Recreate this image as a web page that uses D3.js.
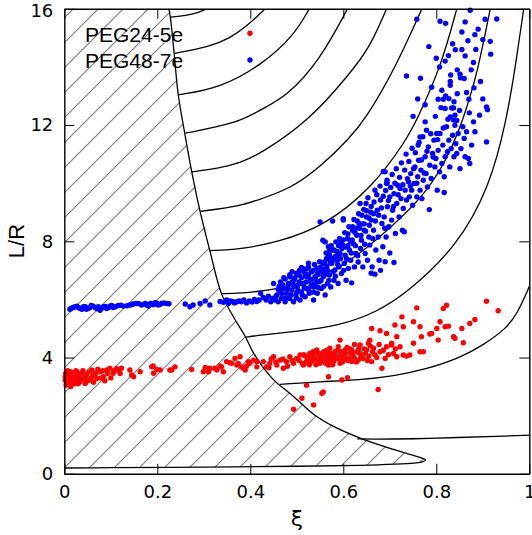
<!DOCTYPE html>
<html>
<head>
<meta charset="utf-8">
<script src="https://cdn.jsdelivr.net/npm/d3@7"></script>
<style>
  body { margin: 0; background: #fff; }
</style>
</head>
<body>
<div id="chart"></div>
<script>
// tick values
const xTicks = [0, 0.2, 0.4, 0.6, 0.8, 1]
const yTicks = [0, 4, 8, 12, 16]

// legend entries
const seriesNames = ['PEG24-5e', 'PEG48-7e']

// edge of the hatched (forbidden) region, from top of plot round the nose to the axis
const boundary = [
  [0.225, 16], [0.228, 15.72], [0.236, 14.5], [0.245, 13.05], [0.259, 11.72],
  [0.274, 10.4], [0.292, 9.03], [0.313, 7.68], [0.338, 6.2], [0.363, 5.42],
  [0.39, 4.7], [0.406, 4.18], [0.446, 3.3], [0.493, 2.66], [0.536, 2.05],
  [0.579, 1.63], [0.636, 1.23], [0.708, 0.84], [0.745, 0.66], [0.768, 0.55],
  [0.777, 0.48], [0.77, 0.41], [0.752, 0.37], [0.71, 0.33], [0.636, 0.29],
  [0.5, 0.26], [0.3, 0.23], [0.1, 0.21], [0, 0.2]
]

// contour lines
const contours = [
  [[0.227, 15.71], [0.27, 15.79], [0.29, 15.88], [0.306, 16]],
  [[0.238, 14.47], [0.313, 14.7], [0.355, 14.98], [0.392, 15.39], [0.432, 16]],
  [[0.245, 13.04], [0.335, 13.27], [0.425, 14.08], [0.492, 15.04], [0.527, 16]],
  [[0.26, 11.72], [0.371, 12.06], [0.421, 12.52], [0.478, 12.98], [0.55, 14.24], [0.609, 16]],
  [[0.274, 10.39], [0.33, 10.5], [0.378, 10.7], [0.421, 11.0], [0.528, 12.17], [0.614, 13.77], [0.657, 14.67], [0.693, 16]],
  [[0.292, 9.03], [0.378, 9.21], [0.421, 9.45], [0.485, 9.8], [0.55, 10.55], [0.614, 11.55], [0.65, 12.27], [0.71, 13.9], [0.769, 16]],
  [[0.313, 7.68], [0.378, 7.72], [0.46, 7.98], [0.557, 8.5], [0.664, 9.87], [0.736, 11.5], [0.758, 12.17], [0.81, 14.0], [0.844, 16]],
  [[0.338, 6.2], [0.378, 6.21], [0.45, 6.33], [0.521, 6.6], [0.6, 7.15], [0.664, 7.93], [0.772, 9.5], [0.822, 10.79], [0.858, 12.17], [0.89, 13.9], [0.916, 16]],
  [[0.39, 4.7], [0.42, 4.77], [0.5, 4.9], [0.593, 5.1], [0.67, 5.55], [0.736, 6.21], [0.844, 7.81], [0.915, 9.87], [0.951, 12.17], [0.97, 14.0], [0.988, 16]],
  [[0.464, 3.08], [0.55, 3.17], [0.636, 3.23], [0.708, 3.36], [0.779, 3.6], [0.851, 3.99], [0.9, 4.42], [0.951, 5.0], [0.975, 5.55], [0.994, 6.21], [1.0, 6.45]],
  [[0.63, 1.2], [0.66, 1.19], [0.75, 1.2], [0.85, 1.25], [0.93, 1.29], [1.0, 1.33]]
]

// PEG24-5e  [xi, L/R]
const redPoints = [
  [0.002, 3.34], [0.005, 3.17], [0.009, 3.46], [0.012, 3.28], [0.016, 3.11], [0.005, 3.4], [0.019, 3.4], [0.023, 3.23],
  [0.027, 3.51], [0.03, 3.34], [0.034, 3.17], [0.037, 3.46], [0.041, 3.28], [0.012, 3.51], [0.019, 3.11], [0.045, 3.11],
  [0.048, 3.4], [0.055, 3.23], [0.059, 3.57], [0.062, 3.4], [0.07, 3.28], [0.077, 3.51], [0.084, 3.34], [0.091, 3.57],
  [0.098, 3.63], [0.105, 3.46], [0.116, 3.57], [0.123, 3.63], [0.141, 3.57], [0.145, 3.4], [0.149, 3.34], [0.163, 3.51],
  [0.188, 3.68], [0.192, 3.46], [0.206, 3.57], [0.227, 3.57], [0.238, 3.68], [0.274, 3.59], [0.303, 3.66], [0.31, 3.51],
  [0.324, 3.63], [0.002, 3.22], [0.004, 3.05], [0.006, 3.3], [0.008, 3.15], [0.01, 3.4], [0.012, 3.2], [0.014, 3.0],
  [0.016, 3.35], [0.018, 3.25], [0.02, 3.45], [0.022, 3.1], [0.024, 3.3], [0.026, 3.2], [0.028, 3.4], [0.003, 3.45],
  [0.007, 3.55], [0.011, 3.08], [0.015, 3.5], [0.019, 3.15], [0.025, 3.55], [0.03, 3.1], [0.033, 3.45], [0.036, 3.25],
  [0.04, 3.55], [0.045, 3.35], [0.05, 3.2], [0.053, 3.5], [0.058, 3.3], [0.063, 3.15], [0.067, 3.45], [0.072, 3.6],
  [0.078, 3.3], [0.082, 3.55], [0.087, 3.2], [0.093, 3.45], [0.1, 3.3], [0.108, 3.55], [0.112, 3.62], [0.12, 3.45],
  [0.191, 3.71], [0.199, 3.59], [0.231, 3.57], [0.299, 3.51], [0.313, 3.63], [0.328, 3.57], [0.335, 3.71],
  [0.338, 3.68], [0.349, 3.86], [0.36, 3.8], [0.367, 3.97], [0.374, 3.8], [0.381, 3.68], [0.389, 3.57], [0.378, 4.03],
  [0.396, 3.86], [0.407, 3.91], [0.414, 3.68], [0.342, 3.51], [0.356, 3.82], [0.371, 3.74], [0.385, 3.63], [0.392, 3.71],
  [0.399, 3.8], [0.414, 3.86],
  [0.428, 3.86], [0.435, 3.68], [0.442, 3.8], [0.45, 4.03], [0.457, 3.74], [0.464, 3.91], [0.471, 3.63], [0.478, 3.86],
  [0.485, 4.03], [0.493, 3.8], [0.5, 3.97], [0.507, 4.09], [0.514, 3.74], [0.525, 4.03], [0.528, 4.14], [0.532, 3.86],
  [0.539, 3.97], [0.543, 4.26], [0.55, 3.8], [0.554, 4.09], [0.557, 3.91], [0.564, 4.14], [0.568, 3.74], [0.571, 4.32],
  [0.575, 3.97], [0.579, 3.86], [0.582, 4.2], [0.586, 4.03], [0.589, 4.37], [0.593, 3.8], [0.597, 4.09], [0.6, 3.91],
  [0.604, 4.26], [0.607, 3.97], [0.614, 4.14], [0.618, 3.86], [0.622, 4.03], [0.629, 4.2], [0.632, 3.91], [0.636, 4.43],
  [0.64, 4.09], [0.643, 3.97], [0.65, 4.26], [0.654, 4.49], [0.661, 3.86], [0.665, 4.32], [0.668, 4.09], [0.679, 4.2],
  [0.683, 3.63], [0.69, 3.97], [0.693, 4.37], [0.704, 4.43], [0.708, 4.14], [0.715, 4.03], [0.722, 4.37], [0.729, 4.09],
  [0.736, 4.05], [0.743, 4.09], [0.751, 4.49], [0.765, 4.2], [0.772, 4.2],
  [0.505, 3.9], [0.515, 4.1], [0.52, 3.85], [0.53, 4.0], [0.535, 4.2], [0.545, 3.9], [0.55, 4.05], [0.56, 3.95],
  [0.565, 4.25], [0.57, 3.85], [0.58, 4.1], [0.59, 3.95], [0.595, 4.2], [0.6, 4.05], [0.61, 3.9], [0.615, 4.3],
  [0.62, 4.1], [0.625, 3.95], [0.635, 4.15], [0.645, 4.3], [0.655, 4.05],
  [0.512, 3.8], [0.518, 4.05], [0.523, 3.95], [0.527, 3.75], [0.533, 3.9], [0.538, 4.1], [0.541, 3.75], [0.547, 4.15],
  [0.552, 3.9], [0.558, 4.2], [0.562, 3.8], [0.567, 4.0], [0.573, 4.15], [0.577, 3.75], [0.583, 3.95], [0.588, 4.25],
  [0.592, 4.05], [0.598, 3.85], [0.603, 4.15], [0.608, 4.35], [0.612, 3.95], [0.618, 4.25], [0.624, 4.45], [0.628, 3.85],
  [0.633, 4.3], [0.638, 4.0], [0.648, 4.15], [0.652, 3.9], [0.658, 4.4], [0.663, 4.2], [0.672, 4.0], [0.677, 4.45],
  [0.686, 4.25], [0.697, 4.1], [0.712, 4.3], [0.47, 3.95], [0.48, 3.7], [0.49, 3.9], [0.455, 3.85], [0.445, 3.95],
  [0.44, 3.65],
  [0.493, 2.22], [0.511, 2.6], [0.536, 2.37], [0.554, 2.77], [0.557, 2.82], [0.521, 3.05], [0.568, 3.34], [0.597, 3.23],
  [0.609, 3.31], [0.675, 2.9],
  [0.908, 5.94], [0.933, 5.61], [0.822, 5.8], [0.815, 5.69], [0.758, 5.71], [0.726, 5.4], [0.751, 5.23], [0.711, 5.12],
  [0.729, 5.06], [0.661, 5.0], [0.679, 4.92], [0.693, 4.83], [0.715, 4.72], [0.765, 5.06], [0.768, 4.72], [0.79, 4.83],
  [0.801, 5.0], [0.808, 5.23], [0.819, 5.06], [0.826, 5.08], [0.837, 4.72], [0.855, 5.0], [0.872, 5.17], [0.883, 5.31],
  [0.858, 4.51], [0.804, 4.6], [0.657, 4.6], [0.593, 4.6], [0.704, 4.49], [0.84, 4.66], [0.786, 4.81]
]

// PEG48-7e  [xi, L/R]
const bluePoints = [
  [0.012, 5.66], [0.019, 5.72], [0.027, 5.77], [0.034, 5.69], [0.041, 5.75], [0.048, 5.66], [0.055, 5.72], [0.062, 5.77],
  [0.07, 5.69], [0.077, 5.63], [0.084, 5.75], [0.091, 5.69], [0.098, 5.77], [0.105, 5.72], [0.116, 5.79], [0.127, 5.77],
  [0.141, 5.81], [0.148, 5.84], [0.159, 5.86], [0.166, 5.81], [0.174, 5.86], [0.181, 5.77], [0.188, 5.84], [0.195, 5.89],
  [0.202, 5.81], [0.209, 5.86], [0.22, 5.86], [0.26, 5.84], [0.27, 5.75], [0.277, 5.81], [0.292, 5.86], [0.303, 5.95],
  [0.313, 5.81], [0.349, 5.98], [0.353, 5.86], [0.363, 5.92], [0.371, 5.92],
  [0.015, 5.7], [0.023, 5.75], [0.03, 5.72], [0.038, 5.66], [0.045, 5.75], [0.052, 5.7], [0.058, 5.79], [0.066, 5.72],
  [0.073, 5.75], [0.08, 5.7], [0.088, 5.76], [0.095, 5.72], [0.102, 5.79], [0.11, 5.75], [0.122, 5.8], [0.135, 5.78],
  [0.145, 5.82], [0.153, 5.86], [0.17, 5.83], [0.178, 5.8], [0.185, 5.86], [0.192, 5.82], [0.199, 5.87], [0.206, 5.83],
  [0.214, 5.88], [0.225, 5.85], [0.335, 5.93], [0.342, 5.9], [0.358, 5.95], [0.366, 5.88], [0.376, 5.95],
  [0.381, 5.92], [0.386, 5.98], [0.392, 5.88], [0.398, 5.95], [0.404, 5.91], [0.409, 6.0], [0.414, 5.93],
  [0.419, 5.98], [0.422, 6.21], [0.428, 6.07], [0.434, 5.98], [0.439, 6.11], [0.444, 5.92], [0.448, 6.03], [0.45, 6.55],
  [0.453, 5.98], [0.457, 6.15], [0.46, 5.92], [0.464, 6.26], [0.467, 6.03], [0.471, 6.38], [0.475, 5.92], [0.478, 6.21],
  [0.482, 6.55], [0.485, 6.03], [0.485, 6.78], [0.489, 6.32], [0.493, 5.92], [0.494, 6.66], [0.498, 6.15], [0.501, 6.43],
  [0.505, 6.84], [0.507, 5.98], [0.51, 6.26], [0.513, 7.07], [0.515, 6.55], [0.518, 6.09], [0.521, 6.78], [0.521, 6.38],
  [0.525, 7.12], [0.527, 6.21], [0.53, 6.61], [0.532, 6.95], [0.536, 5.98], [0.537, 6.43], [0.539, 6.78], [0.543, 7.07],
  [0.544, 6.21], [0.548, 6.61], [0.55, 6.95], [0.553, 6.38], [0.556, 7.24], [0.557, 6.78], [0.561, 6.15], [0.563, 7.07],
  [0.566, 6.55], [0.568, 7.47], [0.57, 6.84], [0.573, 6.43], [0.575, 7.24], [0.577, 7.7], [0.58, 6.66], [0.582, 7.01],
  [0.584, 7.98], [0.587, 7.35], [0.589, 6.55], [0.591, 7.12], [0.593, 7.58], [0.55, 8.67], [0.561, 7.98], [0.568, 7.81],
  [0.564, 7.41], [0.579, 7.35], [0.596, 6.89], [0.599, 7.87], [0.602, 7.24], [0.604, 7.52], [0.606, 6.66], [0.609, 8.1],
  [0.611, 7.07], [0.613, 7.7], [0.616, 7.35], [0.618, 6.57], [0.62, 8.38], [0.622, 7.92], [0.624, 7.12], [0.627, 7.58],
  [0.629, 8.21], [0.6, 8.78], [0.577, 8.7], [0.632, 7.29], [0.634, 8.61], [0.637, 7.75], [0.639, 8.04], [0.642, 7.12],
  [0.645, 8.38], [0.647, 7.58], [0.649, 9.3], [0.65, 8.84], [0.652, 7.35], [0.655, 8.15], [0.657, 7.87], [0.66, 8.73],
  [0.662, 7.12], [0.665, 8.38], [0.636, 9.3], [0.668, 6.87], [0.668, 9.76], [0.67, 7.7], [0.673, 9.07], [0.675, 8.15],
  [0.677, 7.35], [0.68, 9.42], [0.683, 8.61], [0.685, 7.81], [0.688, 8.84], [0.69, 10.39], [0.692, 8.15], [0.693, 9.99],
  [0.695, 9.19], [0.698, 8.5], [0.7, 9.53], [0.704, 8.73], [0.706, 9.07], [0.709, 7.27], [0.709, 9.64], [0.712, 8.27],
  [0.715, 9.3], [0.717, 9.93], [0.72, 8.84], [0.722, 9.82], [0.724, 9.47], [0.727, 8.38], [0.729, 9.13], [0.731, 8.33],
  [0.733, 9.76], [0.736, 9.42], [0.74, 10.05], [0.742, 9.53], [0.745, 10.33], [0.747, 9.76], [0.749, 9.24], [0.752, 9.99],
  [0.754, 10.56], [0.758, 9.53], [0.76, 10.22], [0.762, 10.79], [0.765, 9.76], [0.767, 10.45], [0.769, 9.47], [0.772, 10.1],
  [0.776, 10.91], [0.778, 10.33], [0.781, 9.87], [0.783, 11.25], [0.785, 9.09], [0.786, 10.62], [0.789, 10.16], [0.792, 11.02],
  [0.795, 11.48], [0.797, 10.56], [0.799, 10.85], [0.802, 9.76], [0.804, 11.13], [0.807, 10.39], [0.808, 11.71], [0.801, 11.71],
  [0.812, 10.68], [0.814, 11.31], [0.817, 9.68], [0.817, 10.22], [0.819, 10.91], [0.822, 11.94], [0.824, 11.08], [0.827, 11.48],
  [0.829, 10.56], [0.832, 11.19], [0.835, 11.65], [0.838, 10.91], [0.84, 11.99], [0.842, 11.36], [0.844, 11.02], [0.847, 11.71],
  [0.851, 10.5], [0.853, 11.19], [0.857, 11.94], [0.86, 11.54], [0.862, 10.91], [0.865, 11.77], [0.869, 10.85], [0.872, 10.68],
  [0.876, 11.31], [0.88, 12.11], [0.883, 11.77], [0.908, 11.42], [0.779, 11.82], [0.765, 11.59], [0.761, 11.31], [0.776, 12.11],
  [0.837, 12.17],
  [0.758, 15.64], [0.808, 15.57], [0.862, 15.55], [0.873, 15.95], [0.905, 15.64], [0.93, 15.65], [0.883, 15.11], [0.9, 14.94],
  [0.916, 14.88], [0.917, 14.44], [0.835, 14.8], [0.841, 14.59], [0.784, 14.7], [0.826, 14.39], [0.819, 14.2], [0.862, 14.38],
  [0.88, 14.15], [0.807, 14.0], [0.831, 13.72], [0.851, 13.75], [0.852, 13.63], [0.736, 13.69], [0.766, 13.61], [0.881, 13.28],
  [0.865, 13.12], [0.87, 12.89], [0.812, 13.2], [0.83, 13.37], [0.845, 13.08], [0.827, 12.91], [0.815, 12.89], [0.804, 12.89],
  [0.908, 12.62], [0.91, 12.53], [0.893, 12.34], [0.871, 12.42], [0.833, 12.59], [0.819, 12.57], [0.837, 12.59], [0.776, 12.7],
  [0.83, 12.28], [0.84, 12.34], [0.844, 12.16],
  [0.47, 6.5], [0.475, 6.7], [0.48, 6.35], [0.485, 6.85], [0.49, 6.6], [0.495, 6.45], [0.5, 6.9], [0.505, 6.6],
  [0.51, 6.75], [0.515, 6.95], [0.52, 6.6], [0.525, 6.85], [0.53, 6.45], [0.535, 7.0], [0.54, 6.7], [0.545, 6.9],
  [0.55, 7.1], [0.555, 6.95], [0.56, 7.3], [0.565, 7.15], [0.57, 7.55], [0.575, 7.4], [0.58, 7.7], [0.585, 7.5],
  [0.59, 7.85], [0.595, 7.95], [0.6, 8.05], [0.605, 7.8], [0.61, 8.25], [0.615, 8.0], [0.62, 8.5], [0.625, 8.3],
  [0.63, 8.7], [0.635, 8.45], [0.64, 8.9], [0.645, 8.6], [0.65, 9.05], [0.655, 8.8], [0.66, 9.2], [0.665, 8.95],
  [0.46, 6.35], [0.465, 6.6], [0.5, 6.25], [0.49, 6.95], [0.525, 7.25], [0.51, 7.1],
  [0.455, 6.1], [0.462, 6.45], [0.468, 6.2], [0.472, 6.75], [0.476, 6.05], [0.481, 6.4], [0.487, 6.15], [0.492, 6.5],
  [0.496, 6.75], [0.499, 6.05], [0.503, 6.3], [0.506, 7.0], [0.509, 6.55], [0.512, 6.15], [0.516, 6.4], [0.519, 6.85],
  [0.522, 7.05], [0.526, 6.3], [0.529, 6.7], [0.533, 6.5], [0.536, 6.25], [0.538, 7.2], [0.541, 6.55], [0.544, 6.85],
  [0.547, 6.4], [0.549, 7.3], [0.552, 6.65], [0.555, 7.05], [0.558, 6.45], [0.56, 6.85], [0.563, 7.6], [0.566, 7.0],
  [0.569, 6.65], [0.572, 7.3], [0.574, 7.85], [0.578, 6.95], [0.581, 7.45], [0.583, 6.8], [0.586, 7.65], [0.588, 7.2],
  [0.592, 8.1], [0.594, 7.4], [0.597, 7.75], [0.601, 7.0], [0.603, 8.3], [0.607, 7.4], [0.61, 7.85], [0.612, 8.5],
  [0.617, 7.6], [0.619, 8.05], [0.623, 8.75], [0.626, 7.85], [0.628, 8.45], [0.631, 7.5], [0.633, 8.95], [0.638, 8.2],
  [0.641, 8.6], [0.644, 9.1], [0.646, 7.9], [0.648, 8.35], [0.653, 9.5], [0.656, 8.55], [0.659, 9.0], [0.663, 8.1],
  [0.666, 9.35], [0.669, 8.7], [0.672, 9.6], [0.676, 8.9], [0.679, 9.9], [0.682, 9.15], [0.686, 9.55], [0.689, 8.45],
  [0.691, 9.75], [0.694, 10.1], [0.697, 9.4], [0.702, 9.85], [0.705, 10.3], [0.708, 9.2], [0.711, 10.0], [0.714, 10.5],
  [0.718, 9.6], [0.721, 10.2], [0.725, 10.7], [0.728, 9.95], [0.732, 10.45], [0.735, 11.0], [0.738, 10.15], [0.741, 10.75],
  [0.744, 9.9], [0.748, 11.2], [0.751, 10.5], [0.755, 11.05], [0.758, 10.0], [0.763, 11.4], [0.768, 10.8], [0.771, 11.6],
  [0.774, 10.35], [0.78, 11.1], [0.788, 11.7], [0.793, 10.9], [0.798, 12.3], [0.803, 11.5], [0.81, 12.6], [0.815, 11.9],
  [0.82, 13.0], [0.825, 12.2], [0.83, 13.5], [0.838, 12.8], [0.845, 13.9], [0.85, 12.5], [0.855, 14.6], [0.86, 13.6],
  [0.868, 14.9], [0.875, 13.9], [0.885, 14.6], [0.89, 15.3], [0.895, 13.5], [0.9, 12.9], [0.855, 15.2], [0.82, 15.5],
  [0.79, 13.3], [0.8, 14.3], [0.76, 12.9], [0.75, 12.3],
  [0.68, 7.0], [0.69, 7.3], [0.7, 7.6], [0.66, 6.9], [0.556, 8.04], [0.571, 7.7], [0.6, 8.73], [0.686, 10.4], [0.694, 10.0]
]

function drawChart() {
  // plot box inside the 532x535 window
  var margin = { top: 8.8, left: 64.3 },
    width = 465,
    height = 465

  var svg = d3
    .select('#chart')
    .append('svg')
    .attr('width', 532)
    .attr('height', 535)

  var defs = svg.append('defs')

  // diagonal hatch for the forbidden region
  var hatch = defs
    .append('pattern')
    .attr('id', 'hatch')
    .attr('patternUnits', 'userSpaceOnUse')
    .attr('width', 25)
    .attr('height', 25)
    .attr('patternTransform', 'translate(9,0)')
  hatch
    .append('path')
    .attr('d', 'M-5,5L5,-5M0,25L25,0M20,30L30,20')
    .attr('stroke', '#000')
    .attr('stroke-width', 0.8)

  defs
    .append('clipPath')
    .attr('id', 'plotclip')
    .append('rect')
    .attr('width', width)
    .attr('height', height)

  var g = svg
    .append('g')
    .attr('transform', 'translate(' + margin.left + ',' + margin.top + ')')

  var x = d3.scaleLinear().domain([0, 1]).range([0, width])
  var y = d3.scaleLinear().domain([0, 16]).range([height, 0])

  var plot = g.append('g').attr('clip-path', 'url(#plotclip)')

  var edgeLine = d3
    .line()
    .x(function (d) {
      return x(d[0])
    })
    .y(function (d) {
      return y(d[1])
    })
    .curve(d3.curveCatmullRom.alpha(0.5))

  // contours get a B-spline so they come out as clean arcs
  var contourLine = d3
    .line()
    .x(function (d) {
      return x(d[0])
    })
    .y(function (d) {
      return y(d[1])
    })
    .curve(d3.curveBasis)

  // hatched area: boundary curve closed along the left axis and top edge
  var area = [[0, 16]].concat(boundary)
  plot
    .append('path')
    .datum(area)
    .attr('fill', 'url(#hatch)')
    .attr('stroke', 'none')
    .attr('d', edgeLine)

  plot
    .append('path')
    .datum(boundary)
    .attr('fill', 'none')
    .attr('stroke', '#000')
    .attr('stroke-width', 1.3)
    .attr('d', edgeLine)

  // contour lines
  plot
    .selectAll('.contour')
    .data(contours)
    .enter()
    .append('path')
    .attr('class', 'contour')
    .attr('fill', 'none')
    .attr('stroke', '#000')
    .attr('stroke-width', 1.3)
    .attr('d', contourLine)

  // data points
  g.append('g')
    .selectAll('circle')
    .data(redPoints)
    .enter()
    .append('circle')
    .attr('cx', function (d) {
      return x(d[0])
    })
    .attr('cy', function (d) {
      return y(d[1])
    })
    .attr('r', 2.7)
    .attr('fill', '#ff0000')

  g.append('g')
    .selectAll('circle')
    .data(bluePoints)
    .enter()
    .append('circle')
    .attr('cx', function (d) {
      return x(d[0])
    })
    .attr('cy', function (d) {
      return y(d[1])
    })
    .attr('r', 2.7)
    .attr('fill', '#0000ff')

  // axes, ticks pointing inwards on all four sides
  var font = 'DejaVu Sans'
  var xAxis = g
    .append('g')
    .attr('transform', 'translate(0,' + height + ')')
    .call(d3.axisBottom(x).tickValues(xTicks).tickFormat(d3.format('')).tickSize(-10).tickSizeOuter(0).tickPadding(11))
  var yAxis = g
    .append('g')
    .call(d3.axisLeft(y).tickValues(yTicks).tickSize(-10).tickSizeOuter(0).tickPadding(11))
  g.append('g').call(d3.axisTop(x).tickValues(xTicks).tickFormat('').tickSize(-10).tickSizeOuter(0))
  g.append('g')
    .attr('transform', 'translate(' + width + ',0)')
    .call(d3.axisRight(y).tickValues(yTicks).tickFormat('').tickSize(-10).tickSizeOuter(0))

  g.selectAll('.domain').attr('stroke', '#000').attr('stroke-width', 1.4)
  g.selectAll('.tick line').attr('stroke', '#000').attr('stroke-width', 1)
  ;[xAxis, yAxis].forEach(function (a) {
    a.selectAll('text').attr('font-family', font).attr('font-size', 18).attr('fill', '#000')
  })
  // keep the top label "16" inside the window
  yAxis.selectAll('text').filter(function (d) { return d === 16 }).attr('dy', '0.45em')

  // axis titles
  svg
    .append('text')
    .attr('x', 297)
    .attr('y', 526)
    .attr('text-anchor', 'middle')
    .attr('font-family', font)
    .attr('font-size', 22)
    .text('ξ')

  svg
    .append('text')
    .attr('transform', 'translate(24,241) rotate(-90)')
    .attr('text-anchor', 'middle')
    .attr('font-family', 'Liberation Sans')
    .attr('font-size', 22)
    .text('L/R')

  // legend
  var colors = ['#ff0000', '#0000ff']
  var legend = svg.append('g')
  seriesNames.forEach(function (name, i) {
    legend
      .append('text')
      .attr('x', 85)
      .attr('y', 41.7 + i * 26.7)
      .attr('font-family', 'Liberation Sans')
      .attr('font-size', 21)
      .text(name)
    legend
      .append('circle')
      .attr('cx', 250)
      .attr('cy', 33.3 + i * 26.7)
      .attr('r', 2.7)
      .attr('fill', colors[i])
  })
}

drawChart()
</script>
</body>
</html>
